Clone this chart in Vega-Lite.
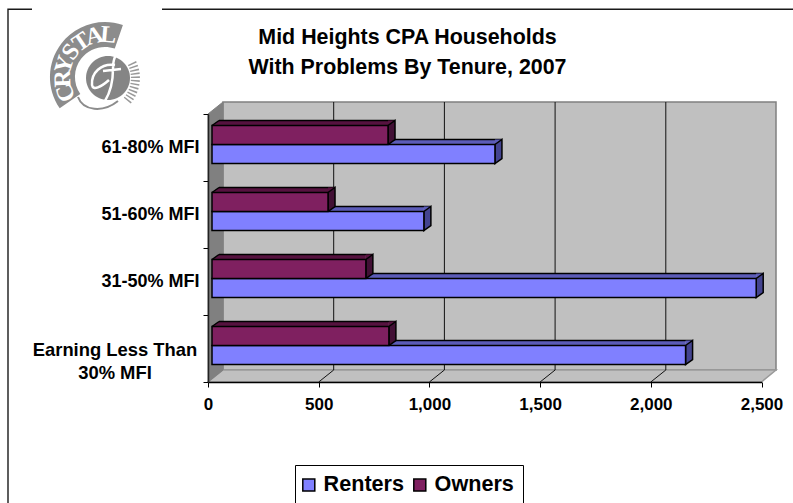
{
"$schema":"https://vega.github.io/schema/vega-lite/v6.json",
"width":793,"height":503,"padding":0,"autosize":{"type":"none"},"background":"white",
"config":{"view":{"stroke":null},"font":"Liberation Sans"},
"title":{"text":["Mid Heights CPA Households","With Problems By Tenure, 2007"],"font":"Liberation Sans","fontSize":21.4,"fontWeight":"bold","color":"black","anchor":"middle","frame":"group","baseline":"top","lineHeight":30,"offset":0,"dx":11,"dy":87},
"datasets":{
 "bars":[
  {"band":"61-80% MFI","tenure":"Renters","households":1278},
  {"band":"51-60% MFI","tenure":"Renters","households":957},
  {"band":"31-50% MFI","tenure":"Renters","households":2458},
  {"band":"Earning Less Than 30% MFI","tenure":"Renters","households":2139},
  {"band":"61-80% MFI","tenure":"Owners","households":795},
  {"band":"51-60% MFI","tenure":"Owners","households":524},
  {"band":"31-50% MFI","tenure":"Owners","households":695},
  {"band":"Earning Less Than 30% MFI","tenure":"Owners","households":799}
 ],
 "origin":[{"tick":0}],
 "gridTicks":[{"tick":500},{"tick":1000},{"tick":1500},{"tick":2000}],
 "letters":[{"letter":"C"},{"letter":"R"},{"letter":"Y"},{"letter":"S"},{"letter":"T"},{"letter":"A"},{"letter":"L"}]
},
"layer":[
 {"data":{"name":"origin"},"mark":{"type":"point","opacity":1,"size":4,"filled":true,"fill":"#c0c0c0","stroke":"#808080","strokeWidth":1.5,"shape":"M15,-246.5L568,-246.5L568,21.5L15,21.5Z"},
  "encoding":{
   "x":{"field":"tick","type":"quantitative","title":null,"scale":{"type":"linear","domain":[0,2500],"range":[208,761.5],"nice":false,"zero":false,"clamp":false},
     "axis":{"orient":"bottom","offset":-121,"values":[0,500,1000,1500,2000,2500],"format":",d","grid":false,"zindex":1,"domainColor":"black","domainWidth":1.5,"tickColor":"black","tickSize":5,"tickWidth":1,"labelColor":"black","labelFont":"Liberation Sans","labelFontSize":17,"labelFontWeight":"bold","labelPadding":9,"labelFlush":false,"labelOverlap":false}},
   "y":{"datum":"Earning Less Than 30% MFI","title":null,"scale":{"type":"band","domain":["61-80% MFI","51-60% MFI","31-50% MFI","Earning Less Than 30% MFI"],"range":[114,382],"paddingInner":0,"paddingOuter":0},
     "axis":{"orient":"left","offset":-208,"grid":false,"zindex":1,"tickBand":"extent","domainColor":"#222222","domainWidth":1.5,"tickColor":"black","tickSize":5,"labelColor":"black","labelFont":"Liberation Sans","labelFontSize":18,"labelFontWeight":"bold","labelPadding":4,"labelLimit":300,"labelOverlap":false,
       "labelExpr":"datum.value==='Earning Less Than 30% MFI' ? '' : datum.value"}}
  }},
 {"data":{"name":"origin"},"mark":{"type":"point","opacity":1,"size":4,"filled":true,"fill":"#c0c0c0","stroke":"#9a9a9a","strokeWidth":1.5,"shape":"M0,33.5L553.5,33.5L568,21.5L15,21.5Z"},
  "encoding":{"x":{"field":"tick","type":"quantitative","title":null},"y":{"datum":"Earning Less Than 30% MFI","title":null}}},
 {"data":{"name":"origin"},"mark":{"type":"point","opacity":1,"size":4,"filled":true,"fill":"#808080","stroke":"#808080","strokeWidth":1,"shape":"M0,-234.5L15,-246.5L15,21.5L0,33.5Z"},
  "encoding":{"x":{"field":"tick","type":"quantitative","title":null},"y":{"datum":"Earning Less Than 30% MFI","title":null}}},
 {"data":{"name":"gridTicks"},"mark":{"type":"point","opacity":1,"size":4,"filled":false,"stroke":"#111111","strokeWidth":1,"shape":"M0,33.5L15,21.5L15,-246.5"},
  "encoding":{"x":{"field":"tick","type":"quantitative","title":null},"y":{"datum":"Earning Less Than 30% MFI","title":null}}},

 {"data":{"name":"origin"},"mark":{"type":"text","text":["Earning Less Than","30% MFI"],"lineHeight":23,"align":"center","baseline":"middle","font":"Liberation Sans","fontSize":18.4,"fontWeight":"bold","color":"black","xOffset":-93,"yOffset":1},
  "encoding":{"x":{"field":"tick","type":"quantitative","title":null},"y":{"datum":"Earning Less Than 30% MFI","title":null}}},

 {"data":{"name":"origin"},"mark":{"type":"point","opacity":1,"size":4,"filled":false,"stroke":"#1a1a1a","strokeWidth":1.4,"shape":"M-176,-339.2L-200,-339.2L-200,160M-46,-339.2L590,-339.2"},
  "encoding":{"x":{"field":"tick","type":"quantitative","title":null},"y":{"datum":"Earning Less Than 30% MFI","title":null}}},

 {"data":{"name":"origin"},"mark":{"type":"point","opacity":1,"size":4,"filled":true,"fill":"#8c8c8c","strokeWidth":0,"xOffset":-103,"yOffset":-271.5,"shape":"M17.9,-52A55,55,0,0,0,-45.3,31.2L-24.7,17A30,30,0,0,1,9.8,-28.4Z"},
  "encoding":{"x":{"field":"tick","type":"quantitative","title":null},"y":{"datum":"Earning Less Than 30% MFI","title":null}}},
 {"data":{"name":"origin"},"mark":{"type":"point","opacity":1,"size":4,"filled":true,"fill":"#858585","strokeWidth":0,"xOffset":-100,"yOffset":-270.5,"shape":"M-22,0A22,22,0,1,1,22,0A22,22,0,1,1,-22,0Z"},
  "encoding":{"x":{"field":"tick","type":"quantitative","title":null},"y":{"datum":"Earning Less Than 30% MFI","title":null}}},
 {"data":{"name":"origin"},"mark":{"type":"point","opacity":1,"size":4,"filled":false,"stroke":"#8c8c8c","strokeWidth":2,"xOffset":-103,"yOffset":-271.5,"shape":"M-27,20C-22,34,-2,36,13,24"},
  "encoding":{"x":{"field":"tick","type":"quantitative","title":null},"y":{"datum":"Earning Less Than 30% MFI","title":null}}},
 {"data":{"name":"origin"},"mark":{"type":"point","opacity":1,"size":4,"filled":false,"stroke":"#999999","strokeWidth":9,"strokeDash":[1.5,2],"xOffset":-103,"yOffset":-271.5,"shape":"M27,-14A35,35,0,0,1,21,25"},
  "encoding":{"x":{"field":"tick","type":"quantitative","title":null},"y":{"datum":"Earning Less Than 30% MFI","title":null}}},
 {"data":{"name":"origin"},"mark":{"type":"point","opacity":1,"size":4,"filled":false,"stroke":"white","strokeWidth":2.5,"xOffset":-103,"yOffset":-271.5,"shape":"M10,-12C-4,-14,-14,-4,-13,8C-12,14,-4,10,4,3M16,-24C10,-24,8,-16,8,-8C8,2,6,14,0,24C-3,28,-8,26,-6,22M-2,-6L16,-8"},
  "encoding":{"x":{"field":"tick","type":"quantitative","title":null},"y":{"datum":"Earning Less Than 30% MFI","title":null}}},
 {"data":{"name":"letters"},"mark":{"type":"text","font":"Liberation Serif","fontSize":24,"fontWeight":"bold","color":"white","align":"center","baseline":"middle","radius":42,"xOffset":-103,"yOffset":-271.5},
  "encoding":{"x":{"datum":0,"title":null},"y":{"datum":"Earning Less Than 30% MFI","title":null},"text":{"field":"letter"},
   "theta":{"field":"letter","type":"nominal","scale":{"type":"point","domain":["C","R","Y","S","T","A","L"],"range":[-1.95,0.08]}},
   "angle":{"field":"letter","type":"nominal","legend":null,"scale":{"type":"point","domain":["C","R","Y","S","T","A","L"],"range":[-112,5]}}}},

 {"data":{"name":"bars"},"transform":[{"filter":"datum.tenure==='Renters'"}],"mark":{"type":"bar","size":5,"fill":"#5c5cb8","xOffset":4,"x2Offset":11,"yOffset":-5.5},
  "encoding":{"x":{"field":"households","type":"quantitative","stack":null,"title":null},"x2":{"datum":0},"y":{"field":"band","type":"nominal","title":null}}},
 {"data":{"name":"bars"},"transform":[{"filter":"datum.tenure==='Renters'"}],"mark":{"type":"rule","stroke":"black","strokeWidth":1.5,"xOffset":11,"x2Offset":11,"yOffset":-8},
  "encoding":{"x":{"field":"households","type":"quantitative","title":null},"x2":{"datum":0},"y":{"field":"band","type":"nominal","title":null}}},
 {"data":{"name":"bars"},"transform":[{"filter":"datum.tenure==='Renters'"}],"mark":{"type":"point","opacity":1,"size":4,"filled":false,"stroke":"black","strokeWidth":1.5,"xOffset":4,"yOffset":6.5,"shape":"M0,-9.5L7,-14.5"},
  "encoding":{"x":{"datum":0,"title":null},"y":{"field":"band","type":"nominal","title":null}}},
 {"data":{"name":"bars"},"transform":[{"filter":"datum.tenure==='Renters'"}],"mark":{"type":"point","opacity":1,"size":4,"filled":true,"fill":"#5c5cb8","strokeWidth":0,"xOffset":4,"yOffset":6.5,"shape":"M0,-14.5L7,-14.5L0,-9.5Z"},
  "encoding":{"x":{"field":"households","type":"quantitative","title":null},"y":{"field":"band","type":"nominal","title":null}}},
 {"data":{"name":"bars"},"transform":[{"filter":"datum.tenure==='Renters'"}],"mark":{"type":"point","opacity":1,"size":4,"filled":true,"fill":"#444490","stroke":"black","strokeWidth":1.5,"xOffset":4,"yOffset":6.5,"shape":"M0,-9.5L7,-14.5L7,4.5L0,9.5Z"},
  "encoding":{"x":{"field":"households","type":"quantitative","title":null},"y":{"field":"band","type":"nominal","title":null}}},

 {"data":{"name":"bars"},"transform":[{"filter":"datum.tenure==='Owners'"}],"mark":{"type":"bar","size":5,"fill":"#56123f","xOffset":4,"x2Offset":11,"yOffset":-24.5},
  "encoding":{"x":{"field":"households","type":"quantitative","stack":null,"title":null},"x2":{"datum":0},"y":{"field":"band","type":"nominal","title":null}}},
 {"data":{"name":"bars"},"transform":[{"filter":"datum.tenure==='Owners'"}],"mark":{"type":"rule","stroke":"black","strokeWidth":1.5,"xOffset":11,"x2Offset":11,"yOffset":-27},
  "encoding":{"x":{"field":"households","type":"quantitative","title":null},"x2":{"datum":0},"y":{"field":"band","type":"nominal","title":null}}},
 {"data":{"name":"bars"},"transform":[{"filter":"datum.tenure==='Owners'"}],"mark":{"type":"point","opacity":1,"size":4,"filled":true,"fill":"#56123f","strokeWidth":0,"xOffset":4,"yOffset":-12.5,"shape":"M0,-9.5L7,-14.5L7,-9.5Z"},
  "encoding":{"x":{"datum":0,"title":null},"y":{"field":"band","type":"nominal","title":null}}},
 {"data":{"name":"bars"},"transform":[{"filter":"datum.tenure==='Owners'"}],"mark":{"type":"point","opacity":1,"size":4,"filled":false,"stroke":"black","strokeWidth":1.5,"xOffset":4,"yOffset":-12.5,"shape":"M0,-9.5L7,-14.5"},
  "encoding":{"x":{"datum":0,"title":null},"y":{"field":"band","type":"nominal","title":null}}},
 {"data":{"name":"bars"},"transform":[{"filter":"datum.tenure==='Owners'"}],"mark":{"type":"point","opacity":1,"size":4,"filled":true,"fill":"#56123f","strokeWidth":0,"xOffset":4,"yOffset":-12.5,"shape":"M0,-14.5L7,-14.5L0,-9.5Z"},
  "encoding":{"x":{"field":"households","type":"quantitative","title":null},"y":{"field":"band","type":"nominal","title":null}}},
 {"data":{"name":"bars"},"transform":[{"filter":"datum.tenure==='Owners'"}],"mark":{"type":"point","opacity":1,"size":4,"filled":true,"fill":"#421035","stroke":"black","strokeWidth":1.5,"xOffset":4,"yOffset":-12.5,"shape":"M0,-9.5L7,-14.5L7,4.5L0,9.5Z"},
  "encoding":{"x":{"field":"households","type":"quantitative","title":null},"y":{"field":"band","type":"nominal","title":null}}},

 {"data":{"name":"bars"},"transform":[{"filter":"datum.tenure==='Renters'"}],"mark":{"type":"bar","size":19,"stroke":"black","strokeWidth":1.5,"xOffset":4,"x2Offset":4,"yOffset":6.5},
  "encoding":{"x":{"field":"households","type":"quantitative","stack":null,"title":null},"x2":{"datum":0},"y":{"field":"band","type":"nominal","title":null},
   "fill":{"field":"tenure","type":"nominal","scale":{"domain":["Renters","Owners"],"range":["#8080ff","#7f2060"]},
     "legend":{"title":null,"orient":"none","legendX":295,"legendY":465,"direction":"horizontal","columns":2,"symbolType":"square","symbolSize":144,"symbolStrokeColor":"black","symbolStrokeWidth":1.5,"symbolOffset":-6,"labelFont":"Liberation Sans","labelFontSize":21.6,"labelFontWeight":"bold","labelColor":"black","labelOffset":4,"columnPadding":5,"padding":9,"strokeColor":"black","fillColor":"white"}}}},
 {"data":{"name":"bars"},"transform":[{"filter":"datum.tenure==='Owners'"}],"mark":{"type":"bar","size":19,"stroke":"black","strokeWidth":1.5,"xOffset":4,"x2Offset":4,"yOffset":-12.5},
  "encoding":{"x":{"field":"households","type":"quantitative","stack":null,"title":null},"x2":{"datum":0},"y":{"field":"band","type":"nominal","title":null},
   "fill":{"field":"tenure","type":"nominal"}}}
],
"resolve":{"scale":{"x":"shared","y":"shared"}}
}
